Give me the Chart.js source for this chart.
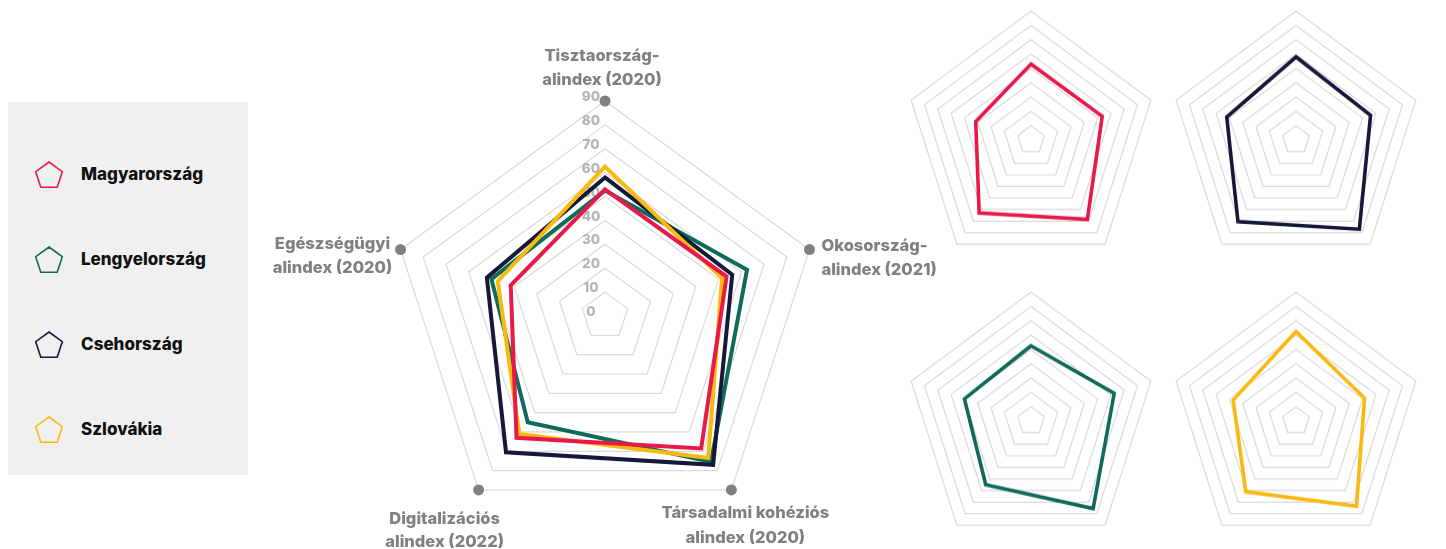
<!DOCTYPE html>
<html>
<head>
<meta charset="utf-8">
<script src="https://cdn.jsdelivr.net/npm/chart.js@4.4.0/dist/chart.umd.min.js"></script>
<style>
  html, body { margin: 0; padding: 0; background: #fff; overflow: hidden; }
  .wrap { position: relative; width: 1446px; height: 549px; font-family: Inter, 'Noto Sans', sans-serif; }
  #legend { position: absolute; left: 8px; top: 102px; width: 240px; height: 373px; background: #f0f0f0; }
  .item { position: absolute; left: 0; width: 240px; height: 30px; }
  .item svg { position: absolute; left: 26px; top: 0; }
  .item span { position: absolute; left: 73px; top: 4px; font-weight: 800; font-size: 17px; color: #111; white-space: nowrap; }
  canvas { position: absolute; }
</style>
</head>
<body>
<div class="wrap">
  <div id="legend"></div>
  <canvas id="main" width="700" height="549" style="left:260px;top:0;width:700px;height:549px"></canvas>
  <canvas id="small-hu" width="258" height="258" style="left:902px;top:8px;width:258px;height:264px"></canvas>
  <canvas id="small-cz" width="258" height="258" style="left:1167px;top:8px;width:258px;height:264px"></canvas>
  <canvas id="small-pl" width="258" height="258" style="left:902px;top:289px;width:258px;height:264px"></canvas>
  <canvas id="small-sk" width="258" height="258" style="left:1167px;top:289px;width:258px;height:264px"></canvas>
</div>
<script>
// ===== Data =====
const AXES = [
  ['Tisztaország-', 'alindex (2020)'],
  ['Okosország-', 'alindex (2021)'],
  ['Társadalmi kohéziós', 'alindex (2020)'],
  ['Digitalizációs', 'alindex (2022)'],
  ['Egészségügyi', 'alindex (2020)'],
];
const COUNTRIES = ['Magyarország', 'Lengyelország', 'Csehország', 'Szlovákia'];
const HU = [53, 53.5, 68.5, 63, 41.5];
const PL = [52.5, 62.5, 75.5, 55, 50];
const CZ = [58, 56, 77, 70.5, 52];
const SK = [62.5, 51.5, 73.5, 61, 47.2];
const VALUES = [HU, PL, CZ, SK];
const COLORS = ['#e8194a', '#0f6b58', '#151839', '#f9b911'];
const SCALE_MIN = 0, SCALE_MAX = 90, SCALE_STEP = 10;

// ===== Styling =====
const GRID = '#dadada';
const LABEL_GREY = '#808080';
const TICK_GREY = '#b5b5b5';
const FONT = 'Inter, "Noto Sans", sans-serif';

// label placement relative to each outer vertex
const LABEL_POS = [
  { dx: -3,  dy: [-45, -21], align: 'center' },
  { dx: 12,  dy: [-4, 20],   align: 'left' },
  { dx: 14,  dy: [23, 48],   align: 'center' },
  { dx: -34, dy: [29, 52],   align: 'center' },
  { dx: -68, dy: [-6, 18],   align: 'center' },
];

Chart.defaults.font.family = FONT;

// ===== Legend =====
const legendEl = document.getElementById('legend');
const pent = (r) => [0, 1, 2, 3, 4].map(i => {
  const a = -Math.PI / 2 + i * 2 * Math.PI / 5;
  return (15 + r * Math.cos(a)).toFixed(1) + ',' + (16 + r * Math.sin(a)).toFixed(1);
}).join(' ');
legendEl.innerHTML = COUNTRIES.map((c, i) => `
  <div class="item" style="top:${58 + i * 85}px">
    <svg width="30" height="30" viewBox="0 0 30 30"><polygon points="${pent(14)}" fill="none" stroke="${COLORS[i]}" stroke-width="1.6"/></svg>
    <span>${c}</span>
  </div>`).join('');

// ===== Plugins =====
const mainDecor = {
  id: 'mainDecor',
  beforeDatasetsDraw(chart) {
    const s = chart.scales.r;
    const ctx = chart.ctx;
    ctx.save();
    ctx.fillStyle = TICK_GREY;
    ctx.font = `800 13.5px ${FONT}`;
    ctx.textAlign = 'center';
    ctx.textBaseline = 'middle';
    s.ticks.forEach(t => {
      const d = s.getDistanceFromCenterForValue(t.value);
      ctx.fillText(String(t.value), s.xCenter - 14, s.yCenter - d - 4);
    });
    ctx.restore();
  },
  afterDraw(chart) {
    const s = chart.scales.r;
    const ctx = chart.ctx;
    ctx.save();
    AXES.forEach((lines, i) => {
      const p = s.getPointPosition(i, s.drawingArea);
      ctx.fillStyle = LABEL_GREY;
      ctx.beginPath();
      ctx.arc(p.x, p.y, 5.5, 0, Math.PI * 2);
      ctx.fill();
      const pos = LABEL_POS[i];
      ctx.font = `800 16.5px ${FONT}`;
      ctx.textAlign = pos.align;
      ctx.textBaseline = 'middle';
      lines.forEach((ln, j) => ctx.fillText(ln, p.x + pos.dx, p.y + pos.dy[j]));
    });
    ctx.restore();
  }
};

function radarOptions(padding, width) {
  return {
    responsive: false,
    animation: false,
    layout: { padding },
    plugins: { legend: { display: false }, tooltip: { enabled: false } },
    elements: {
      line: { borderWidth: width, tension: 0, fill: false, borderJoinStyle: 'miter' },
      point: { radius: 0, hoverRadius: 0 },
    },
    scales: {
      r: {
        min: SCALE_MIN,
        max: SCALE_MAX,
        ticks: { display: false, stepSize: SCALE_STEP },
        grid: { color: GRID, lineWidth: 1.2 },
        angleLines: { display: false },
        pointLabels: { display: false },
      }
    }
  };
}

// ===== Main chart =====
const drawOrder = [0, 3, 2, 1];
new Chart(document.getElementById('main'), {
  type: 'radar',
  data: {
    labels: AXES.map(a => a.join(' ')),
    datasets: COUNTRIES.map((c, i) => ({
      label: c,
      data: VALUES[i],
      borderColor: COLORS[i],
      backgroundColor: 'transparent',
      order: drawOrder.indexOf(i),
    })),
  },
  options: radarOptions({ left: 130, right: 140, top: 100, bottom: 17 }, 4),
  plugins: [mainDecor],
});

// ===== Small multiples =====
const SMALL = [['small-hu', 0], ['small-cz', 2], ['small-pl', 1], ['small-sk', 3]];
SMALL.forEach(([id, i]) => {
  new Chart(document.getElementById(id), {
    type: 'radar',
    data: {
      labels: AXES.map(a => a.join(' ')),
      datasets: [{
        label: COUNTRIES[i],
        data: VALUES[i],
        borderColor: COLORS[i],
        backgroundColor: 'transparent',
      }],
    },
    options: radarOptions(3, 3.6),
  });
});
</script>
</body>
</html>
